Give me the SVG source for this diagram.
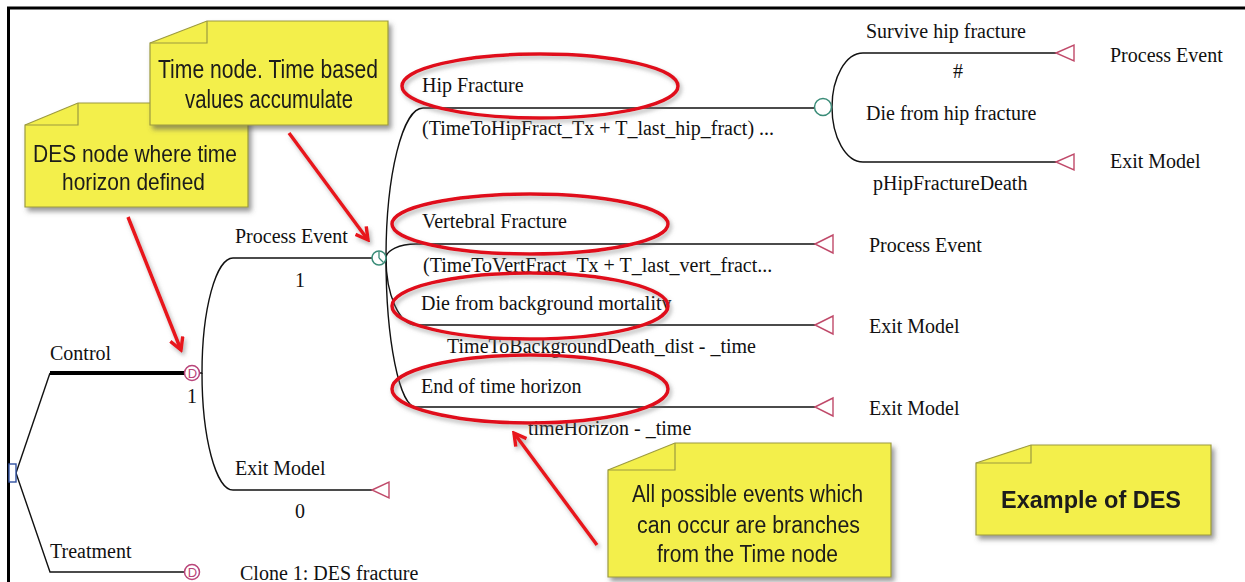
<svg xmlns="http://www.w3.org/2000/svg" width="1245" height="582" viewBox="0 0 1245 582">
<defs>
<style>
.t{font-family:"Liberation Serif","Times New Roman",serif;font-size:20px;fill:#111}
.n{font-family:"Liberation Sans Narrow","Liberation Sans",Arial,sans-serif;fill:#1a1a1a}
.d{font-family:"Liberation Sans",Arial,sans-serif;font-size:13px;fill:#b9457a}
.br{fill:none;stroke:#111;stroke-width:1.4}
.term{fill:#fff;stroke:#c04a6a;stroke-width:1.4}
.dec{fill:#fff;stroke:#b9457a;stroke-width:1.5}
.chance{fill:#fff;stroke:#3a8c78;stroke-width:1.5}
.note{fill:#f3ef4b;stroke:#9c9a40;stroke-width:1.2}
.flap{fill:none;stroke:#9c9a40;stroke-width:1.2}
.oval{fill:none;stroke:#e0101a;stroke-width:3.5}
.arr{fill:none;stroke:#e8141c;stroke-width:3.5}
</style>
<filter id="sh" x="-10%" y="-10%" width="130%" height="140%">
<feDropShadow dx="3" dy="4" stdDeviation="2.5" flood-color="#555" flood-opacity="0.6"/>
</filter>
<filter id="sh2" x="-10%" y="-20%" width="130%" height="150%">
<feDropShadow dx="2" dy="3" stdDeviation="2" flood-color="#777" flood-opacity="0.55"/>
</filter>
<marker id="ah" viewBox="0 0 12 12" refX="10" refY="6" markerWidth="16" markerHeight="16" markerUnits="userSpaceOnUse" orient="auto">
<path d="M1,1 L10,6 L1,11" fill="none" stroke="#e8141c" stroke-width="2.6"/>
</marker>
</defs>
<rect width="1245" height="582" fill="#fff"/>
<g id="frame">
<line x1="7" y1="8" x2="1245" y2="8" stroke="#000" stroke-width="3"/>
<line x1="8.5" y1="7" x2="8.5" y2="582" stroke="#000" stroke-width="3"/>
</g>
<g id="connectors">
<path class="br" d="M16,473 L50,373"/>
<path d="M50,373 H185" stroke="#000" stroke-width="4" fill="none"/>
<path class="br" d="M16,473 L50,572 H185"/>
<path class="br" d="M199,373 H202 A31,115 0 0 1 233,258 H372"/>
<path class="br" d="M202,373 A31,117 0 0 0 233,490 H372"/>
<path class="br" d="M386,258 A37,150 0 0 1 423,108 H814"/>
<path class="br" d="M386,258 A30,14 0 0 1 416,244 H815"/>
<path class="br" d="M386,258 A30,67 0 0 0 416,325 H815"/>
<path class="br" d="M386,258 A30,149 0 0 0 416,407 H815"/>
<path class="br" d="M832,107 A31,54 0 0 1 863,53 H1056"/>
<path class="br" d="M832,107 A31,55 0 0 0 863,162 H1056"/>
</g>
<g id="root"><rect x="9" y="464" width="7" height="18" fill="#fff" stroke="#3050a0" stroke-width="1.4"/></g>
<g id="control">
<circle class="dec" cx="192" cy="373" r="7.5"/>
<text class="d" x="192.5" y="377.8" text-anchor="middle">D</text>
<text class="t" x="50" y="360">Control</text>
<text class="t" x="192" y="403" text-anchor="middle">1</text>
</g>
<g id="treatment">
<circle class="dec" cx="192" cy="572" r="7.5"/>
<text class="d" x="192.5" y="576.8" text-anchor="middle">D</text>
<text class="t" x="50" y="558">Treatment</text>
<text class="t" x="240" y="580">Clone 1: DES fracture</text>
</g>
<g id="process-event">
<text class="t" x="235" y="243">Process Event</text>
<text class="t" x="300" y="287" text-anchor="middle">1</text>
<circle class="chance" cx="379" cy="258" r="7"/>
<path d="M379,258 V251.5 M379,258 L383.5,262.5" stroke="#3a8c78" stroke-width="1.3" fill="none"/>
</g>
<g id="exit-model-1">
<text class="t" x="235" y="475">Exit Model</text>
<text class="t" x="300" y="518" text-anchor="middle">0</text>
<polygon class="term" points="372,490 389,482 389,498"/>
</g>
<g id="hip-fracture">
<text class="t" x="422" y="92">Hip Fracture</text>
<text class="t" x="422" y="135">(TimeToHipFract_Tx + T_last_hip_fract) ...</text>
<circle class="chance" cx="823" cy="107" r="8.5"/>
</g>
<g id="survive-hip">
<text class="t" x="866" y="38">Survive hip fracture</text>
<text class="t" x="958" y="78" text-anchor="middle">#</text>
<polygon class="term" points="1056,53 1074,45 1074,61"/>
<text class="t" x="1110" y="62">Process Event</text>
</g>
<g id="die-hip">
<text class="t" x="866" y="120">Die from hip fracture</text>
<text class="t" x="873" y="190">pHipFractureDeath</text>
<polygon class="term" points="1056,162 1074,154 1074,170"/>
<text class="t" x="1110" y="168">Exit Model</text>
</g>
<g id="vertebral">
<text class="t" x="422" y="228">Vertebral Fracture</text>
<text class="t" x="423" y="272">(TimeToVertFract_Tx + T_last_vert_fract...</text>
<polygon class="term" points="815,244 833,235 833,253"/>
<text class="t" x="869" y="252">Process Event</text>
</g>
<g id="background-death">
<text class="t" x="421" y="310">Die from background mortality</text>
<text class="t" x="447" y="353">TimeToBackgroundDeath_dist - _time</text>
<polygon class="term" points="815,325 833,316 833,334"/>
<text class="t" x="869" y="333">Exit Model</text>
</g>
<g id="time-horizon">
<text class="t" x="421" y="393">End of time horizon</text>
<text class="t" x="528" y="435">timeHorizon - _time</text>
<polygon class="term" points="815,407 833,398 833,416"/>
<text class="t" x="869" y="415">Exit Model</text>
</g>
<g id="highlights" filter="url(#sh2)">
<ellipse class="oval" cx="540" cy="86" rx="138" ry="32"/>
<ellipse class="oval" cx="530" cy="224" rx="138" ry="30"/>
<ellipse class="oval" cx="530" cy="306" rx="138" ry="33"/>
<ellipse class="oval" cx="530" cy="389" rx="138" ry="34"/>
</g>
<g id="note-des" filter="url(#sh)">
<polygon class="note" points="25,125 78,103 248,103 248,207 25,207"/>
<path class="flap" d="M25,125 H78 V103"/>
<text class="n" x="33" y="162" font-size="24" textLength="204" lengthAdjust="spacingAndGlyphs">DES node where time</text>
<text class="n" x="62" y="190" font-size="24" textLength="143" lengthAdjust="spacingAndGlyphs">horizon defined</text>
</g>
<g id="note-time" filter="url(#sh)">
<polygon class="note" points="150,43 207,21 388,21 388,125 150,125"/>
<path class="flap" d="M150,43 H207 V21"/>
<text class="n" x="158" y="78" font-size="25" textLength="220" lengthAdjust="spacingAndGlyphs">Time node. Time based</text>
<text class="n" x="185" y="108" font-size="25" textLength="168" lengthAdjust="spacingAndGlyphs">values accumulate</text>
</g>
<g id="note-events" filter="url(#sh)">
<polygon class="note" points="608,470 675,443 891,443 891,577 608,577"/>
<path class="flap" d="M608,470 H675 V443"/>
<text class="n" x="632" y="502" font-size="23" textLength="231" lengthAdjust="spacingAndGlyphs">All possible events which</text>
<text class="n" x="637" y="533" font-size="23" textLength="223" lengthAdjust="spacingAndGlyphs">can occur are branches</text>
<text class="n" x="657" y="562" font-size="23" textLength="181" lengthAdjust="spacingAndGlyphs">from the Time node</text>
</g>
<g id="note-example" filter="url(#sh)">
<polygon class="note" points="976,463 1031,445 1211,445 1211,535 976,535"/>
<path class="flap" d="M976,463 H1031 V445"/>
<text class="n" x="1001" y="508" font-size="23" font-weight="bold" textLength="180" lengthAdjust="spacingAndGlyphs">Example of DES</text>
</g>
<g id="callout-arrows" filter="url(#sh2)">
<line class="arr" x1="289" y1="133" x2="368" y2="240" marker-end="url(#ah)"/>
<line class="arr" x1="128" y1="217" x2="181" y2="350" marker-end="url(#ah)"/>
<line class="arr" x1="597" y1="545" x2="514" y2="433" marker-end="url(#ah)"/>
</g>
</svg>
